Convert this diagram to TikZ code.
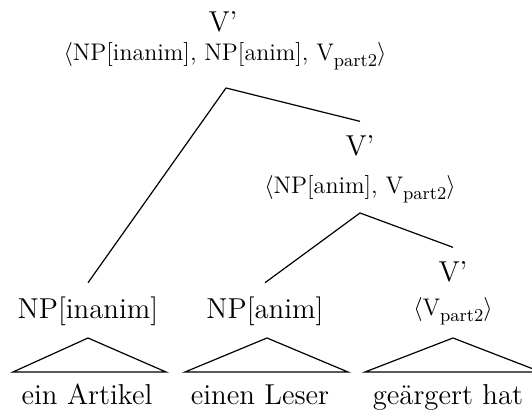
\documentclass[tikz,border=0pt]{standalone}
\usepackage{tikz}
\newcommand{\vpart}{V\raisebox{-2.6pt}{\small part2}}

\begin{document}
\begin{tikzpicture}[x=0.5pt,y=-0.5pt,line width=0.6pt,
        cat/.style={font=\Large,anchor=base,outer sep=4pt},
        val/.style={font=\large,anchor=base},
        word/.style={font=\Large,anchor=base}]
        \useasboundingbox (0,0) rectangle (532,416);
        % labels of the phrases
        \node[cat] (vtop) at (223,32) {V'};
        \node[val] (vtopval) at (225,61) {$\langle$NP[inanim], NP[anim], \vpart$\rangle$};
        \node[cat] (vmid) at (360,156) {V'};
        \node[val] (vmidval) at (360,194) {$\langle$NP[anim], \vpart$\rangle$};
        \node[cat] (vlow) at (453,282) {V'};
        \node[val] (vlowval) at (453,316) {$\langle$\vpart$\rangle$};
        \node[cat] (npin) at (88,319) {NP[inanim]};
        \node[cat] (npan) at (265,319) {NP[anim]};
        % branches
        \coordinate (ftop) at (226,88);
        \coordinate (fmid) at (360,213);
        \draw (npin.north) -- (ftop) -- (vmid.north);
        \draw (npan.north) -- (fmid) -- (vlow.north);
        % triangles
        \draw (88,338) -- (13,372) -- (166,372) -- cycle;
        \draw (267,338) -- (185,372) -- (348,372) -- cycle;
        \draw (453,338) -- (365,372) -- (541,372) -- cycle;
        \node[word] (win) at (87,405) {ein Artikel};
        \node[word] (wan) at (260,405) {einen Leser};
        \node[word] (wlow) at (448,405) {geärgert hat};
    \end{tikzpicture}
\end{document}
